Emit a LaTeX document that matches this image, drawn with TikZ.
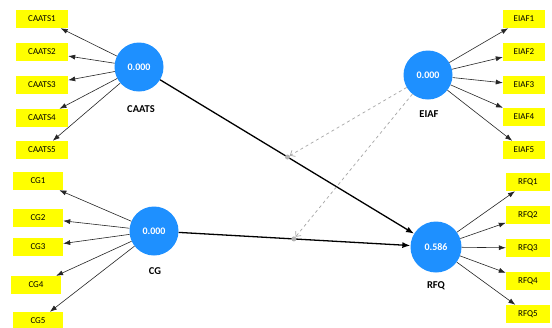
\documentclass[tikz,border=0pt]{standalone}
\usepackage{fontspec}
\setmainfont{Carlito}
\usetikzlibrary{arrows.meta}
\definecolor{lvblue}{RGB}{30,144,255}
\definecolor{indyellow}{RGB}{255,255,0}
\begin{document}
\begin{tikzpicture}[x=1pt,y=-1pt,
 lv/.style={circle,fill=lvblue,minimum size=49pt,inner sep=0pt,text=white,font=\fontsize{10}{12}\selectfont\bfseries},
 ind/.style={fill=indyellow,minimum height=18pt,inner sep=0pt,font=\fontsize{9}{10}\selectfont},
 lab/.style={font=\fontsize{10.5}{12}\selectfont\bfseries},
 load/.style={draw=black!85,line width=0.6pt,-{Latex[length=7pt,width=5pt]}},
 strpath/.style={draw=black,line width=1.3pt,-{Latex[length=8pt,width=6pt]}},
 modline/.style={draw=gray!70,dashed,line width=0.7pt,-{Straight Barb[length=4pt,width=7pt]}},
 moddot/.style={circle,fill=gray!60,inner sep=0pt,minimum size=5pt}]
\useasboundingbox (0,0) rectangle (552,327);
\fill[white] (0,0) rectangle (552,327);
% latent variables
\node[lv] (CAATS) at (139,67) {0.000};
\node[lv] (EIAF) at (428,75) {0.000};
\node[lv] (CG) at (154,231) {0.000};
\node[lv,minimum size=51pt] (RFQ) at (436,247) {0.586};
\node[lab] (lCAATS) at (141,109) {CAATS};
\node[lab] (lEIAF) at (429,114) {EIAF};
\node[lab] (lCG) at (155,271) {CG};
\node[lab] (lRFQ) at (436,286) {RFQ};
% CAATS indicators
\node[ind,minimum width=52pt] (c1) at (42,19) {CAATS1};
\node[ind,minimum width=52pt] (c2) at (42,52) {CAATS2};
\node[ind,minimum width=52pt] (c3) at (42,85) {CAATS3};
\node[ind,minimum width=52pt] (c4) at (42,118) {CAATS4};
\node[ind,minimum width=52pt] (c5) at (42,150) {CAATS5};
% EIAF indicators
\node[ind,minimum width=42pt] (e1) at (524,19) {EIAF1};
\node[ind,minimum width=42pt] (e2) at (524,52) {EIAF2};
\node[ind,minimum width=42pt] (e3) at (524,85) {EIAF3};
\node[ind,minimum width=42pt] (e4) at (524,117) {EIAF4};
\node[ind,minimum width=42pt] (e5) at (524,150) {EIAF5};
% CG indicators
\node[ind,minimum width=50pt] (g1) at (38,181) {CG1};
\node[ind,minimum width=50pt] (g2) at (38,218) {CG2};
\node[ind,minimum width=50pt] (g3) at (38,247) {CG3};
\node[ind,minimum width=50pt] (g4) at (36,285) {CG4};
\node[ind,minimum width=50pt] (g5) at (38,321) {CG5};
% RFQ indicators
\node[ind,minimum width=44pt] (r1) at (528,182) {RFQ1};
\node[ind,minimum width=44pt] (r2) at (528,215) {RFQ2};
\node[ind,minimum width=44pt] (r3) at (528,248) {RFQ3};
\node[ind,minimum width=44pt] (r4) at (528,281) {RFQ4};
\node[ind,minimum width=44pt] (r5) at (528,314) {RFQ5};
% loadings
\foreach \i in {1,...,5}{
  \draw[load] (CAATS) -- (c\i);
  \draw[load] (EIAF) -- (e\i);
  \draw[load] (CG) -- (g\i);
  \draw[load] (RFQ) -- (r\i);
}
% structural paths
\draw[strpath] (CAATS) -- (RFQ);
\draw[strpath] (CG) -- (RFQ);
\path (CAATS.center) -- (RFQ.center) node[moddot,pos=0.5] (m1) {};
\path (CG.center) -- (RFQ.center) node[moddot,pos=0.496] (m2) {};
\draw[modline] (EIAF) -- (m1);
\draw[modline] (EIAF) -- (m2);
\end{tikzpicture}
\end{document}
